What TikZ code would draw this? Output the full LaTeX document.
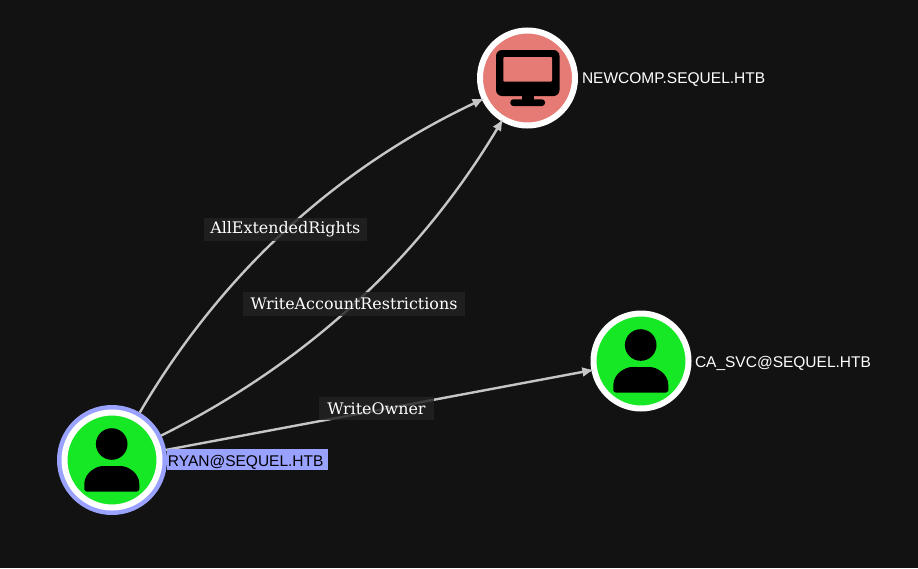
\documentclass[tikz,border=0pt]{standalone}
\usepackage{fontspec}
\setmainfont{Liberation Sans}
\newfontfamily\edgefont{DejaVu Serif}
\usetikzlibrary{arrows.meta}
\definecolor{bgc}{HTML}{121212}
\definecolor{labc}{HTML}{222222}
\definecolor{edgec}{HTML}{C6C6C6}
\definecolor{userc}{HTML}{17E825}
\definecolor{compc}{HTML}{E67A74}
\definecolor{selc}{HTML}{9AA2FF}
\tikzset{
  x=1pt,y=-1pt,
  entity/.style={circle,inner sep=0pt,outer sep=0pt,minimum size=95pt,line width=6pt,draw=white},
  userent/.style={entity,fill=userc},
  compent/.style={entity,fill=compc},
  halo/.style={circle,inner sep=0pt,outer sep=0pt,minimum size=110pt,fill=selc},
  rel/.style={draw=edgec,line width=2.4pt,-{Latex[length=12pt,width=10pt]},shorten >=0pt},
  rellabel/.style={fill=labc,fill opacity=0.82,text opacity=1,text=white,inner sep=0pt,outer sep=0pt,anchor=center,font=\edgefont\fontsize{15.9}{16}\selectfont},
  entlabel/.style={text=white,inner sep=0pt,outer sep=0pt,anchor=west,font=\fontsize{15.5}{16}\selectfont},
}
\newcommand{\personicon}[2]{%
  \fill[black] (#1-0.3,#2-16) circle[radius=15.8];
  \fill[black,rounded corners=3pt] (#1-27.7,#2+31.7) -- (#1-27.7,#2+27)
    .. controls (#1-27.7,#2+13) and (#1-16,#2+6) .. (#1-6,#2+6) -- (#1+5.5,#2+6)
    .. controls (#1+16,#2+6) and (#1+27.3,#2+13) .. (#1+27.3,#2+27) -- (#1+27.3,#2+31.7) -- cycle;
}
\begin{document}
\begin{tikzpicture}
\useasboundingbox (0,0) rectangle (918,568);
\fill[bgc] (0,0) rectangle (918,568);
% nodes
\node[halo] (ryan) at (112,460) {};
\node[userent] (ryancore) at (112,460) {};
\node[userent] (casvc) at (641,361) {};
\node[compent] (comp) at (527.5,78) {};
% icons
\personicon{112}{460}
\personicon{641}{361}
\fill[black,rounded corners=6pt] (496,50) rectangle (559.5,96);
\fill[compc,rounded corners=1pt] (503.3,57) rectangle (552,81.7);
\fill[black] (521.7,95) rectangle (534,101);
\fill[black,rounded corners=3pt] (510.3,99.3) rectangle (545,106);
% connectors
\draw[rel] (ryan) .. controls (222,272) and (337,168) .. (comp);
\draw[rel] (ryan) .. controls (307,363) and (420,258) .. (comp);
\draw[rel] (ryan) -- (casvc);
% connector labels
\node[rellabel,minimum width=163pt,minimum height=23.5pt] (l1) at (285.3,229.3) {AllExtendedRights};
\node[rellabel,minimum width=222pt,minimum height=24pt] (l2) at (354,304) {WriteAccountRestrictions};
\node[rellabel,minimum width=115.5pt,minimum height=23.5pt] (l3) at (376.5,408.3) {WriteOwner};
% entity labels
\node[entlabel,fill=selc,text=black,anchor=center,minimum width=161.5pt,minimum height=20.7pt,text depth=0pt] (lryan) at (247.7,459.7) {\raisebox{-1.5pt}{\hspace{-4pt}RYAN@SEQUEL.HTB}};
\node[entlabel] (lcomp) at (582,79.5) {NEWCOMP.SEQUEL.HTB};
\node[entlabel] (lcasvc) at (695,363) {CA\_SVC@SEQUEL.HTB};
\end{tikzpicture}
\end{document}
